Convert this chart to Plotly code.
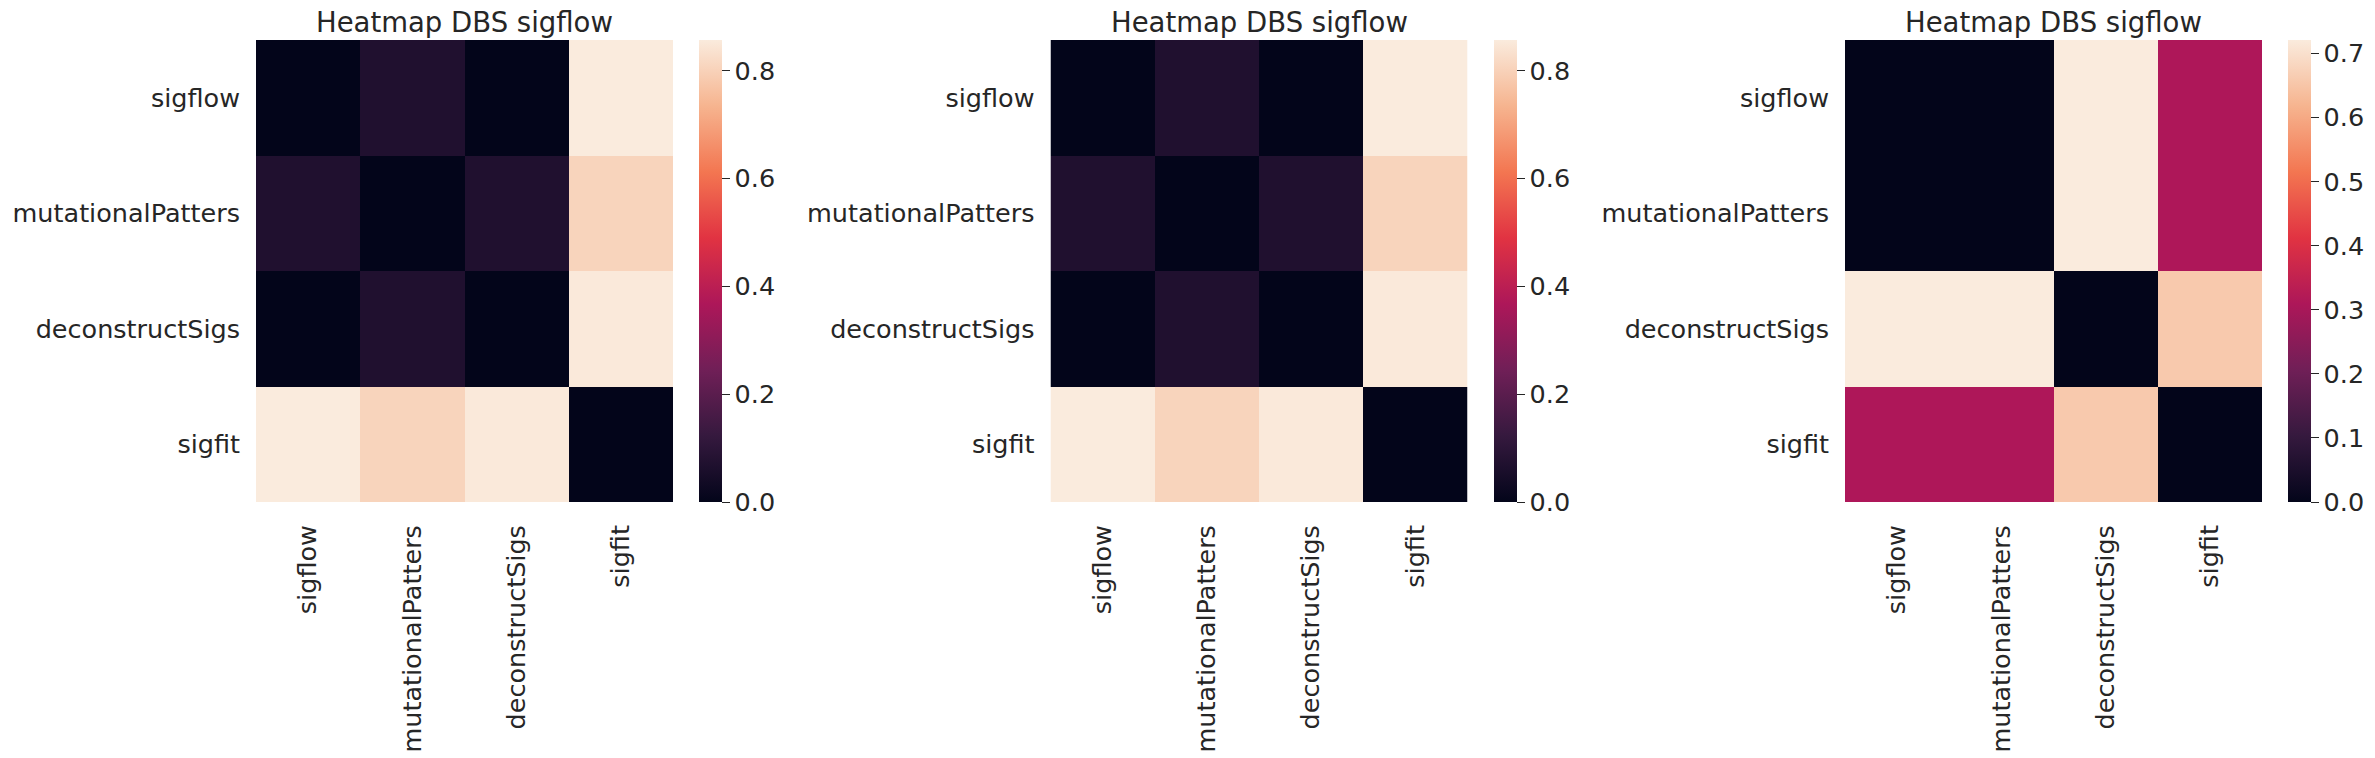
import plotly.graph_objects as go

W, H = 2375, 758

methods = ["sigflow", "mutationalPatters", "deconstructSigs", "sigfit"]
titles = ["Heatmap DBS sigflow", "Heatmap DBS sigflow", "Heatmap DBS sigflow"]

z_panel1 = [
    [0.000, 0.070, 0.000, 0.857],
    [0.070, 0.000, 0.070, 0.805],
    [0.000, 0.070, 0.000, 0.853],
    [0.857, 0.805, 0.853, 0.000],
]
z_panel2 = [
    [0.000, 0.070, 0.000, 0.857],
    [0.070, 0.000, 0.070, 0.805],
    [0.000, 0.070, 0.000, 0.853],
    [0.857, 0.805, 0.853, 0.000],
]
z_panel3 = [
    [0.000, 0.000, 0.721, 0.310],
    [0.000, 0.000, 0.721, 0.310],
    [0.721, 0.721, 0.000, 0.657],
    [0.310, 0.310, 0.657, 0.000],
]
panels = [z_panel1, z_panel2, z_panel3]
zmax_list = [0.857, 0.857, 0.721]
cbar_ticks = [[0.0, 0.2, 0.4, 0.6, 0.8],
              [0.0, 0.2, 0.4, 0.6, 0.8],
              [0.0, 0.1, 0.2, 0.3, 0.4, 0.5, 0.6, 0.7]]

# seaborn "rocket" colormap anchors
rocket = [
    [0.0, "#03051a"],
    [1/7, "#35193e"],
    [2/7, "#701f57"],
    [3/7, "#ad1759"],
    [4/7, "#e13342"],
    [5/7, "#f37651"],
    [6/7, "#f6b48f"],
    [1.0, "#faebdd"],
]

# layout in page pixels
hm_left = [256.0, 1050.5, 1845.0]
hm_w = 417.0
hm_top, hm_bot = 40.0, 502.0
cb_gap, cb_thick = 26.0, 23.0
title_y = 22.0


def px_x(p):
    return p / W


def px_y(p):
    return 1 - p / H


TXT = "#262626"
FONT = "DejaVu Sans"
TICK_SIZE = 25.5
TITLE_SIZE = 27.5

fig = go.Figure()
annotations = []
for i, z in enumerate(panels):
    k = "" if i == 0 else str(i + 1)
    x0 = px_x(hm_left[i])
    x1 = px_x(hm_left[i] + hm_w)
    fig.add_trace(go.Heatmap(
        z=z, x=methods, y=methods,
        zmin=0, zmax=zmax_list[i], colorscale=rocket,
        xaxis="x" + k, yaxis="y" + k,
        colorbar=dict(
            x=px_x(hm_left[i] + hm_w + cb_gap), xanchor="left",
            y=px_y((hm_top + hm_bot) / 2), yanchor="middle",
            len=hm_bot - hm_top, lenmode="pixels",
            thickness=cb_thick, thicknessmode="pixels",
            xpad=0, ypad=0, outlinewidth=0,
            ticks="outside", ticklen=8, tickwidth=1.3, tickcolor=TXT,
            tickvals=cbar_ticks[i], ticktext=[f"{v:.1f}" for v in cbar_ticks[i]],
            tickfont=dict(family=FONT, size=TICK_SIZE, color=TXT),
        ),
    ))
    fig.update_layout(**{
        "xaxis" + k: dict(domain=[x0, x1], anchor="y" + k, tickangle=-90,
                          ticks="", showgrid=False, zeroline=False, showline=False,
                          ticklabelstandoff=17,
                          tickfont=dict(family=FONT, size=TICK_SIZE, color=TXT)),
        "yaxis" + k: dict(domain=[px_y(hm_bot), px_y(hm_top)], anchor="x" + k,
                          autorange="reversed", ticks="", showgrid=False,
                          zeroline=False, showline=False, ticklabelstandoff=15,
                          tickfont=dict(family=FONT, size=TICK_SIZE, color=TXT)),
    })
    annotations.append(dict(
        text=titles[i], xref="paper", yref="paper",
        x=(x0 + x1) / 2, y=px_y(title_y), xanchor="center", yanchor="middle",
        showarrow=False, font=dict(family=FONT, size=TITLE_SIZE, color=TXT),
    ))

fig.update_layout(
    width=W, height=H,
    margin=dict(l=0, r=0, t=0, b=0),
    paper_bgcolor="white", plot_bgcolor="white",
    annotations=annotations,
    showlegend=False,
)

# remove the browser's default 8px body margin so the figure fills the window exactly
fig.write_html("out.html", config={"displayModeBar": False},
               post_script="document.body.style.margin='0';")
